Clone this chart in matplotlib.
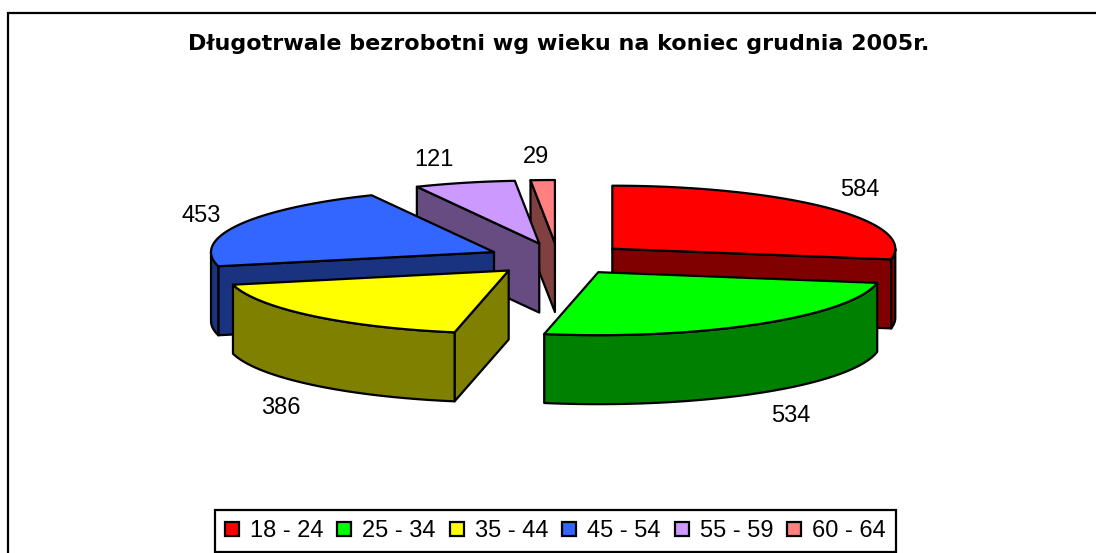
import numpy as np
import matplotlib
matplotlib.use("Agg")
import matplotlib.pyplot as plt
from matplotlib.patches import Polygon, Rectangle

# --- data ---
age_groups = ["18 - 24", "25 - 34", "35 - 44", "45 - 54", "55 - 59", "60 - 64"]
counts = [584, 534, 386, 453, 121, 29]
title = "Długotrwale bezrobotni wg wieku na koniec grudnia 2005r."

# --- style ---
top_colors = ["#FF0000", "#00FF00", "#FFFF00", "#3366FF", "#CC99FF", "#FF8080"]
wall_colors = ["#800000", "#008000", "#808000", "#1A3380", "#664C80", "#804040"]
label_xy = [(860, 190), (791, 416), (281, 408), (201, 216), (434, 160), (536, 157)]

# --- projection of the tilted pie, in figure pixels ---
CX, CY = 558, 259
RX, RY = 283, 63
EX, EY = 71, 16
DEPTH = 69
LW = 1.6

plt.rcParams["font.family"] = ["Liberation Sans", "DejaVu Sans"]
fig = plt.figure(figsize=(10.96, 5.53), dpi=100)
ax = fig.add_axes([0, 0, 1, 1])
ax.set_xlim(0, 1096)
ax.set_ylim(553, 0)
ax.axis("off")

# the chart frame is cut by the picture: only top and left sides show
ax.plot([7.5, 7.5, 1096], [553, 12.5, 12.5], color="black", lw=LW,
        solid_joinstyle="miter", zorder=0)

fractions = np.array(counts) / np.sum(counts)
edges = np.concatenate([[0], np.cumsum(fractions) * 360])


def point(apex, deg):
    a = np.radians(deg)
    return apex[0] + RX * np.sin(a), apex[1] - RY * np.cos(a)


slices = []
for i in range(len(counts)):
    start, end = edges[i], edges[i + 1]
    mid = np.radians((start + end) / 2)
    apex = (CX + EX * np.sin(mid), CY - EY * np.cos(mid))
    slices.append((apex[1], i, apex, start, end))


def add_poly(pts, color, z):
    ax.add_patch(Polygon(pts, closed=True, fc=color, ec="black", lw=LW,
                         joinstyle="round", zorder=z))


z = 1
for _, i, apex, start, end in sorted(slices, key=lambda s: s[0]):
    down = lambda p: (p[0], p[1] + DEPTH)
    # radial faces turned to the viewer
    for ang, visible in ((start, np.sin(np.radians(start)) < -1e-6),
                         (end, np.sin(np.radians(end)) > 1e-6)):
        if visible:
            p = point(apex, ang)
            add_poly([apex, p, down(p), down(apex)], wall_colors[i], z)
            z += 1
    # curved outer wall, front half only
    lo, hi = max(start, 90), min(end, 270)
    if hi > lo:
        arc = [point(apex, a) for a in np.linspace(lo, hi, 60)]
        add_poly(arc + [down(p) for p in arc[::-1]], wall_colors[i], z)
        z += 1
    # top face
    arc = [point(apex, a) for a in np.linspace(start, end, 80)]
    add_poly([apex] + arc, top_colors[i], z)
    z += 1

for value, (x, y) in zip(counts, label_xy):
    ax.text(x, y, str(value), fontsize=17, ha="center", va="center", color="black", zorder=z)

ax.text(559, 44, title, fontsize=16, fontweight="bold", family="DejaVu Sans",
        ha="center", va="center", color="black")

handles = [Rectangle((0, 0), 1, 1, fc=c, ec="black", lw=LW) for c in top_colors]
leg = ax.legend(handles, age_groups, ncol=6, loc="center",
                bbox_to_anchor=(555.5 / 1096, 1 - 531 / 553), fontsize=17,
                frameon=True, fancybox=False, edgecolor="black", framealpha=1,
                handlelength=0.59, handleheight=0.55, handletextpad=0.47,
                columnspacing=0.59, borderpad=0.42, borderaxespad=0)
leg.get_frame().set_linewidth(LW)
leg.set_zorder(z + 1)

fig.savefig("out.png", dpi=100, facecolor="white")
